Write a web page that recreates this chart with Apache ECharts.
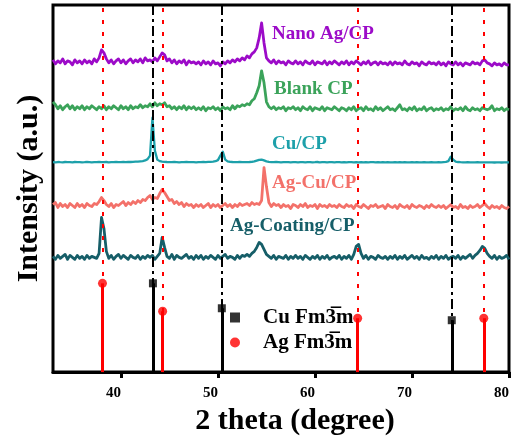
<!DOCTYPE html>
<html>
<head>
<meta charset="utf-8">
<script src="https://cdn.jsdelivr.net/npm/echarts@6/dist/echarts.min.js"></script>
<style>
  html, body { margin: 0; padding: 0; background: #fff; }
  #chart { width: 512px; height: 441px; }
</style>
</head>
<body>
<div id="chart"></div>
<script>
// Scan grid: 2θ from 33° to 80° in 0.25° steps
const SCAN_START = 33;
const SCAN_STEP = 0.25;

// Diffractograms (a.u.), one value per scan step
const nanoAgCP = [
  13,9,12,10,14,9,12,11,8,13,10,12,9,13,10,12,9,14,11,15,
  23,20,14,10,13,9,12,14,10,13,9,12,14,10,13,11,14,10,15,12,
  13,11,15,12,16,20,18,12,14,10,13,9,12,10,13,8,12,10,11,9,
  11,8,12,9,11,8,12,9,10,7,11,9,12,10,13,11,14,12,15,13,
  17,15,19,21,25,35,50,30,15,12,10,13,9,12,10,11,8,12,10,9,
  12,9,11,8,12,10,9,12,8,11,10,9,12,8,11,9,12,10,8,11,
  9,12,8,11,9,12,10,8,11,9,12,8,10,11,8,11,9,10,8,11,
  8,11,9,10,8,12,9,8,11,9,10,7,11,9,8,11,9,10,8,11,
  8,10,7,11,9,8,11,8,10,7,10,9,8,11,9,10,8,12,13,10,
  9,7,10,8,9,7,10,8,8
];
const blankCP = [
  17,14,10,13,9,12,14,10,13,9,12,10,13,9,12,10,13,11,9,12,
  10,13,9,12,10,13,11,9,13,10,12,9,13,10,12,11,14,11,13,12,
  15,12,16,13,15,14,16,12,13,10,12,9,12,10,13,9,12,10,12,9,
  11,9,12,8,11,10,12,9,11,8,12,10,11,9,13,10,13,12,14,13,
  15,14,18,20,26,33,48,36,17,12,10,12,9,11,10,12,8,11,10,12,
  9,11,8,12,10,9,12,8,11,10,9,12,8,11,10,9,12,10,8,11,
  10,8,11,9,12,8,10,11,8,12,9,10,8,12,9,11,8,10,12,9,
  10,8,11,14,9,10,8,11,9,12,8,10,9,12,8,10,11,8,10,9,
  11,8,10,9,12,8,10,9,11,8,12,9,8,11,9,10,8,11,10,9,
  10,13,8,10,9,11,8,10,9
];
const cuCP = [
  10.5,10.2,10.6,10.4,10.3,10.6,10.4,10.5,10.3,10.6,10.4,10.5,10.3,10.4,10.6,10.5,10.3,10.5,10.4,10.6,
  10.5,10.4,10.6,10.3,10.5,10.4,10.6,10.5,10.4,10.6,10.5,10.7,10.6,10.8,10.9,11,11.3,11.6,12.2,13.5,
  17,55,22,13,11.5,11,10.8,10.6,10.5,10.4,10.6,10.5,10.3,10.5,10.4,10.6,10.5,10.4,10.5,10.3,
  10.5,10.4,10.6,10.5,10.7,10.8,11,11.4,12.5,17,21,13,11.2,10.8,10.6,10.5,10.4,10.6,10.5,10.4,
  10.5,10.6,10.8,11.2,12,12.8,13,12.2,11.2,10.7,10.5,10.4,10.6,10.5,10.3,10.5,10.4,10.5,10.3,10.4,
  10.4,10.3,10.5,10.4,10.2,10.4,10.5,10.3,10.4,10.6,10.3,10.4,10.5,10.2,10.4,10.5,10.3,10.4,10.5,10.3,
  10.4,10.2,10.4,10.5,10.3,10.4,10.3,10.5,10.2,10.4,10.3,10.5,10.4,10.2,10.4,10.3,10.5,10.3,10.4,10.2,
  10.3,10.4,10.2,10.4,10.3,10.5,10.3,10.2,10.4,10.3,10.4,10.2,10.3,10.4,10.3,10.2,10.4,10.3,10.2,10.4,
  10.3,10.5,10.7,11.5,16,13,11,10.6,10.4,10.3,10.2,10.4,10.3,10.2,10.3,10.4,10.2,10.3,10.2,10.3,
  10.2,10.3,10.1,10.3,10.2,10.1,10.3,10.2,10.2
];
const agCuCP = [
  12,14,9,13,10,12,9,13,11,9,13,10,12,9,13,11,10,13,12,15,
  19,16,12,10,13,9,12,11,13,15,11,14,12,15,13,16,14,17,16,19,
  21,17,19,18,23,27,24,20,16,17,13,15,12,14,10,13,11,12,9,12,
  10,12,9,11,13,9,12,10,12,9,11,13,10,12,9,12,10,13,11,12,
  13,11,14,12,13,12,16,49,30,14,10,13,11,12,9,12,10,11,8,12,
  11,9,12,10,13,9,11,10,12,8,12,10,11,9,12,10,11,9,12,10,
  9,12,10,11,8,12,10,9,12,10,8,11,10,12,9,10,11,8,12,10,
  9,11,8,12,10,9,11,8,12,10,9,11,10,8,11,9,12,10,9,11,
  9,11,8,10,12,9,10,8,12,9,10,8,11,9,10,12,9,11,13,10,
  8,11,9,10,8,11,9,8,10
];
const agCoatingCP = [
  12,9,13,10,12,14,9,13,11,9,13,10,12,9,13,10,12,11,10,15,
  51,40,17,10,13,9,12,14,10,13,11,9,13,11,10,13,9,12,10,13,
  11,13,9,12,15,31,21,12,10,14,9,13,11,10,12,14,10,12,9,13,
  10,13,9,12,10,13,11,9,13,10,12,14,10,12,11,9,13,10,13,12,
  14,12,15,17,21,26,24,19,14,12,10,13,9,12,11,10,13,9,12,10,
  13,10,12,9,13,11,9,12,10,13,9,12,10,13,9,11,12,10,13,9,
  12,10,13,9,14,22,24,15,10,13,9,12,11,9,13,11,10,12,9,12,
  10,13,9,12,10,13,9,11,13,10,12,9,13,10,11,9,12,10,13,9,
  12,10,13,9,11,12,10,13,9,12,10,12,14,10,13,15,18,22,20,15,
  12,10,13,9,12,10,11,13,9
];

// Reference patterns (2θ and relative stick height)
const cuRefTheta = [43.3, 50.4, 74.1];
const cuRefHeight = [89, 64, 52];
const agRefTheta = [38.1, 44.3, 64.4, 77.4];
const agRefHeight = [89, 61, 54, 54];

// x-axis tick labels
const xTicks = [40, 50, 60, 70, 80];

const SERIF = '"Liberation Serif", "Times New Roman", serif';

const patterns = [
  { name: 'Nano Ag/CP', data: nanoAgCP, offset: 300, color: '#9C0BC8', width: 2.8 },
  { name: 'Blank CP', data: blankCP, offset: 254, color: '#3BA35A', width: 2.8 },
  { name: 'Cu/CP', data: cuCP, offset: 200, color: '#1DA0AA', width: 2.3 },
  { name: 'Ag-Cu/CP', data: agCuCP, offset: 156, color: '#F3716A', width: 2.8 },
  { name: 'Ag-Coating/CP', data: agCoatingCP, offset: 104, color: '#165E68', width: 2.8 }
];

const labelPos = {
  'Nano Ag/CP': [272, 34],
  'Blank CP': [274, 89],
  'Cu/CP': [272, 144],
  'Ag-Cu/CP': [272, 183],
  'Ag-Coating/CP': [230, 226]
};

const CU_NAME = 'Cu Fm3\u0305m';
const AG_NAME = 'Ag Fm3\u0305m';

const series = patterns.map(p => ({
  name: p.name,
  type: 'line',
  showSymbol: false,
  silent: true,
  z: 3,
  lineStyle: { color: p.color, width: p.width, join: 'round' },
  data: p.data.map((v, i) => [SCAN_START + i * SCAN_STEP, v + p.offset])
}));

// Stick patterns with their guide lines
series.push({
  name: CU_NAME,
  type: 'scatter',
  symbol: 'rect',
  symbolSize: 8,
  z: 6,
  itemStyle: { color: '#000' },
  data: cuRefTheta.map((x, i) => [x, cuRefHeight[i]]),
  markLine: {
    silent: true,
    symbol: 'none',
    label: { show: false },
    data: cuRefTheta.map((x, i) => [
      { coord: [x, 0], lineStyle: { type: 'solid', width: 3, color: '#000' } },
      { coord: [x, cuRefHeight[i]] }
    ]).concat(cuRefTheta.map(x => ({
      xAxis: x,
      lineStyle: { type: [10, 4, 3, 4], width: 2, color: '#000' }
    })))
  }
});
series.push({
  name: AG_NAME,
  type: 'scatter',
  symbol: 'circle',
  symbolSize: 9,
  z: 6,
  itemStyle: { color: '#FF0000' },
  data: agRefTheta.map((x, i) => [x, agRefHeight[i]]),
  markLine: {
    silent: true,
    symbol: 'none',
    label: { show: false },
    data: agRefTheta.map((x, i) => [
      { coord: [x, 0], lineStyle: { type: 'solid', width: 3, color: '#FF0000' } },
      { coord: [x, agRefHeight[i]] }
    ]).concat(agRefTheta.map(x => ({
      xAxis: x,
      lineStyle: { type: [4, 8], width: 2, color: '#FF0000' }
    })))
  }
});

const chart = echarts.init(document.getElementById('chart'), null, { renderer: 'canvas' });
chart.setOption({
  animation: false,
  backgroundColor: '#fff',
  grid: {
    left: 53, right: 3, top: 5, bottom: 68,
    show: true, borderColor: '#000', borderWidth: 3, backgroundColor: 'transparent'
  },
  xAxis: {
    type: 'value',
    min: 33,
    max: 80,
    name: '2 theta (degree)',
    nameLocation: 'middle',
    nameGap: 28,
    nameTextStyle: {
      fontFamily: SERIF, fontWeight: 'bold', fontSize: 30, color: '#000',
      padding: [0, 0, 0, 28]
    },
    axisLine: { show: true, lineStyle: { color: '#000', width: 3 } },
    axisTick: { show: true, inside: false, length: 6, lineStyle: { color: '#000', width: 3 }, customValues: xTicks },
    axisLabel: {
      customValues: xTicks,
      fontFamily: SERIF, fontWeight: 'bold', fontSize: 15, color: '#000',
      align: 'right', margin: 14
    },
    splitLine: { show: false }
  },
  yAxis: {
    type: 'value',
    min: 0,
    max: 368,
    name: 'Intensity (a.u.)',
    nameLocation: 'middle',
    nameGap: 9,
    nameTextStyle: { fontFamily: SERIF, fontWeight: 'bold', fontSize: 30, color: '#000' },
    axisLine: { show: false },
    axisTick: { show: false },
    axisLabel: { show: false },
    splitLine: { show: false }
  },
  legend: {
    data: [CU_NAME, AG_NAME],
    orient: 'vertical',
    left: 230,
    top: 307,
    padding: 0,
    itemWidth: 10,
    itemHeight: 10,
    itemGap: 4,
    selectedMode: false,
    textStyle: { fontFamily: SERIF, fontWeight: 'bold', fontSize: 21, color: '#000', padding: [0, 0, 0, 18] }
  },
  graphic: patterns.map(p => ({
    type: 'text',
    x: labelPos[p.name][0],
    y: labelPos[p.name][1],
    z: 10,
    style: {
      text: p.name,
      fill: p.color,
      font: 'bold 19px ' + SERIF,
      verticalAlign: 'middle'
    }
  })),
  series: series
});
</script>
</body>
</html>
